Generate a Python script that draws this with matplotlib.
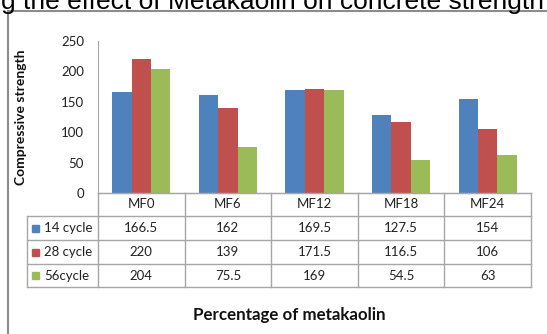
import numpy as np
import matplotlib.pyplot as plt
from matplotlib.lines import Line2D
from matplotlib.patches import Rectangle

# Data
mixes = ['MF0', 'MF6', 'MF12', 'MF18', 'MF24']
series_names = ['14 cycle', '28 cycle', '56cycle']
cycle14 = [166.5, 162, 169.5, 127.5, 154]
cycle28 = [220, 139, 171.5, 116.5, 106]
cycle56 = [204, 75.5, 169, 54.5, 63]
y_ticks = [0, 50, 100, 150, 200, 250]

colors = ['#4F81BD', '#C0504D', '#9BBB59']
grid_col = '#A6A6A6'

W, H = 547, 334
fig = plt.figure(figsize=(W / 100, H / 100), dpi=100)


def fx(px):
    return px / W


def fy(py):
    return 1 - py / H


body_font = ['Lato', 'DejaVu Sans']

# plot area in pixel layout
left, right, top, bottom = 98, 531, 41, 193
ax = fig.add_axes([fx(left), fy(bottom), fx(right) - fx(left), fy(top) - fy(bottom)])

values = [cycle14, cycle28, cycle56]
x = np.arange(len(mixes))
width = 0.224
for i, vals in enumerate(values):
    ax.bar(x + (i - 1) * width, vals, width=width, color=colors[i], zorder=2)

ax.set_xlim(-0.5, len(mixes) - 0.5)
ax.set_ylim(0, 250)
ax.set_yticks(y_ticks)
ax.set_yticklabels([str(t) for t in y_ticks], fontfamily=body_font, fontsize=9.5, color='#222222')
ax.set_xticks([])
ax.tick_params(axis='y', length=0, pad=10)
for s in ['top', 'right']:
    ax.spines[s].set_visible(False)
ax.spines['left'].set_color(grid_col)
ax.spines['bottom'].set_color(grid_col)
ax.patch.set_alpha(0)

# data table under the plot
row_edges = [193, 216, 240, 264, 287]
col_w = (right - left) / len(mixes)
col_edges = [left + k * col_w for k in range(len(mixes) + 1)]
tbl_left = 27


def hline(py, x0, x1):
    fig.add_artist(Line2D([fx(x0), fx(x1)], [fy(py), fy(py)], color=grid_col, lw=1))


def vline(px, y0, y1):
    fig.add_artist(Line2D([fx(px), fx(px)], [fy(y0), fy(y1)], color=grid_col, lw=1))


for k, py in enumerate(row_edges):
    hline(py, tbl_left if k > 0 else left, right)
for px in col_edges:
    vline(px, row_edges[0], row_edges[-1])
vline(tbl_left, row_edges[1], row_edges[-1])


def fmt(v):
    return str(int(v)) if float(v).is_integer() else str(v)


for j, name in enumerate(mixes):
    cx = (col_edges[j] + col_edges[j + 1]) / 2
    cy = (row_edges[0] + row_edges[1]) / 2
    fig.text(fx(cx), fy(cy), name, ha='center', va='center',
             fontfamily=body_font, fontsize=9.5, color='#222222')

for i, vals in enumerate(values):
    cy = (row_edges[i + 1] + row_edges[i + 2]) / 2
    fig.add_artist(Rectangle((fx(32), fy(cy + 3.5)), fx(7), 7 / H,
                             color=colors[i], transform=fig.transFigure))
    fig.text(fx(44), fy(cy), series_names[i], ha='left', va='center',
             fontfamily=body_font, fontsize=9.5, color='#222222')
    for j, v in enumerate(vals):
        cx = (col_edges[j] + col_edges[j + 1]) / 2
        fig.text(fx(cx), fy(cy), fmt(v), ha='center', va='center',
                 fontfamily=body_font, fontsize=9.5, color='#222222')

# axis titles
fig.text(fx(21), fy(117), 'Compressive strength', rotation=90, ha='center', va='center',
         fontfamily=body_font, fontweight='bold', fontsize=10, color='#111111')
fig.text(fx(289), fy(315), 'Percentage of metakaolin', ha='center', va='center',
         fontfamily=body_font, fontweight='bold', fontsize=12.2, color='#111111')

# chart frame and heading above it
fig.add_artist(Line2D([fx(8), fx(W)], [fy(11), fy(11)], color='#8C8C8C', lw=1.5))
fig.add_artist(Line2D([fx(8), fx(8)], [fy(11), fy(H)], color='#8C8C8C', lw=1.5))
fig.text(fx(1), fy(9), 'g the effect of Metakaolin on concrete strength', ha='left', va='baseline',
         fontfamily=['Liberation Sans', 'DejaVu Sans'], fontsize=19, color='black')

fig.savefig('out.png', dpi=100)
